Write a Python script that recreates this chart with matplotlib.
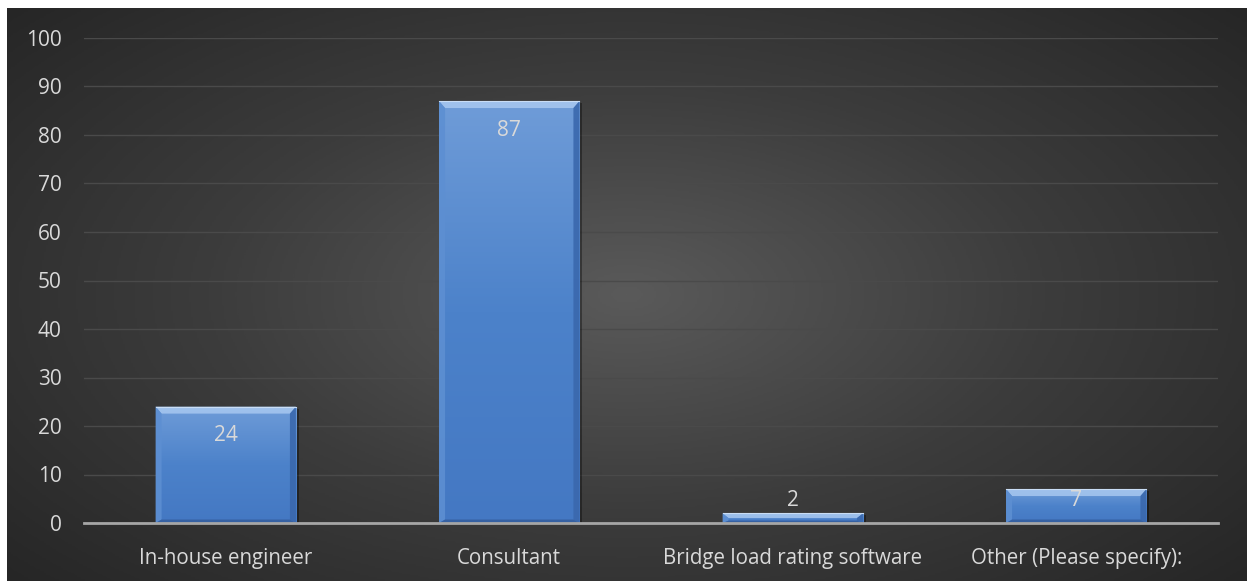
import numpy as np
import matplotlib.pyplot as plt
from matplotlib.patches import Polygon, Rectangle
from matplotlib.colors import LinearSegmentedColormap

categories = ["In-house engineer", "Consultant", "Bridge load rating software",
              "Other (Please specify):"]
counts = [24, 87, 2, 7]
y_ticks = [0, 10, 20, 30, 40, 50, 60, 70, 80, 90, 100]

W, H = 1247, 581
fig = plt.figure(figsize=(W / 100, H / 100), dpi=100, facecolor="white")

# dark radial-gradient backdrop
bg = fig.add_axes([7 / W, 0, 1 - 7 / W, 1 - 8 / H])
bg.set_axis_off()
gx, gy = np.meshgrid(np.linspace(-1, 1, 600), np.linspace(-1, 1, 300))
r = np.sqrt(gx ** 2 + (gy * 0.9) ** 2)
bg_cmap = LinearSegmentedColormap.from_list("bg", ["#5a5a5a", "#3c3c3c", "#262626"])
bg.imshow(r, cmap=bg_cmap, vmin=0, vmax=1.35, aspect="auto", extent=(0, 1, 0, 1))
bg.set_xlim(0, 1)
bg.set_ylim(0, 1)

ax = fig.add_axes([84 / W, 1 - 523 / H, (1218 - 84) / W, (523 - 38) / H])
ax.patch.set_alpha(0)
ax.set_xlim(-0.5, len(categories) - 0.5)
ax.set_ylim(0, 100)

text_col = "#d9d9d9"
font = "Open Sans"

ax.set_yticks(y_ticks)
ax.set_yticklabels([str(t) for t in y_ticks], color=text_col, fontsize=15, family=font)
ax.set_xticks(range(len(categories)))
ax.set_xticklabels(categories, color=text_col, fontsize=14.8, family=font)
ax.tick_params(axis="y", length=0, pad=16)
ax.tick_params(axis="x", length=0, pad=18)
for s in ["top", "right", "left"]:
    ax.spines[s].set_visible(False)
ax.spines["bottom"].set_color("#a6a6a6")
ax.spines["bottom"].set_linewidth(2)
ax.spines["bottom"].set_zorder(5)
ax.grid(axis="y", color="#4a4a4a", linewidth=1)
ax.set_axisbelow(True)

# pixel -> data conversion for bevel sizes
px_y = 100 / (523 - 38)
px_x = len(categories) / (1218 - 84)

bar_w = 0.495
bar_cmap = LinearSegmentedColormap.from_list("bar", ["#6f9cd8", "#4c82ca", "#4478c3"])
grad = np.linspace(0, 1, 256).reshape(-1, 1)

for i, v in enumerate(counts):
    x0, x1 = i - bar_w / 2, i + bar_w / 2
    # soft shadow
    ax.add_patch(Rectangle((x0 + 3 * px_x, 0), bar_w, v - 2 * px_y,
                           facecolor="black", alpha=0.35, edgecolor="none", zorder=2))
    rect = Rectangle((x0, 0), bar_w, v, facecolor="none", edgecolor="none", zorder=3)
    ax.add_patch(rect)
    # top of the gradient (row 0) sits at the bar top
    im = ax.imshow(grad, cmap=bar_cmap, aspect="auto", extent=(x0, x1, 0, v),
                   zorder=3, origin="upper")
    im.set_clip_path(rect)
    # bevel edges
    b = min(7 * px_y, v / 2)
    bx = 6 * px_x
    top = Polygon([(x0, v), (x1, v), (x1 - bx, v - b), (x0 + bx, v - b)],
                  facecolor="#a8c8f0", edgecolor="none", alpha=0.85, zorder=4)
    left = Polygon([(x0, 0), (x0, v), (x0 + bx, v - b), (x0 + bx, b * 0.5)],
                   facecolor="#5d8fd2", edgecolor="none", alpha=0.9, zorder=4)
    right = Polygon([(x1, 0), (x1, v), (x1 - bx, v - b), (x1 - bx, b * 0.5)],
                    facecolor="#3a68ad", edgecolor="none", alpha=0.9, zorder=4)
    bottom = Polygon([(x0, 0), (x1, 0), (x1 - bx, b * 0.5), (x0 + bx, b * 0.5)],
                     facecolor="#355f9f", edgecolor="none", alpha=0.9, zorder=4)
    for p in (top, left, right, bottom):
        ax.add_patch(p)
    ax.plot([x0, x1], [v, v], color="#c9ddf5", linewidth=0.8, zorder=4)

    label_y = max(v - 29 * px_y, 23 * px_y)
    ax.text(i, label_y, str(v), ha="center", va="center", color=text_col,
            fontsize=15, family=font, zorder=6)

fig.savefig("out.png", dpi=100, facecolor="white")
